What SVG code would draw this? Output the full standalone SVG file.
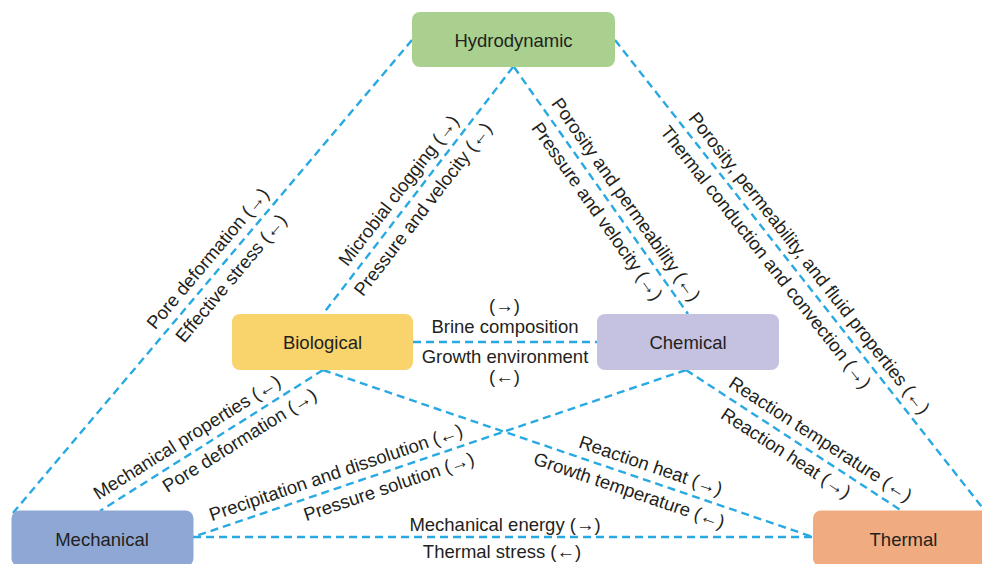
<svg xmlns="http://www.w3.org/2000/svg" width="982" height="564" viewBox="0 0 982 564">
<style>
.n{stroke:none}
.nt{font-family:"Liberation Sans",Arial,sans-serif;font-size:18.5px;fill:#231f20;text-anchor:middle}
.c line{stroke:#29a9e1;stroke-width:2.4;stroke-dasharray:8 5;fill:none}
.l{font-family:"Liberation Sans",Arial,sans-serif;font-size:18.5px;fill:#231f20;text-anchor:middle}
</style>
<rect width="982" height="564" fill="#ffffff"/>
<g class="c" id="connectors">
<line x1="412" y1="40" x2="13" y2="513"/>
<line x1="615" y1="40" x2="985" y2="511"/>
<line x1="513" y1="67" x2="323" y2="314"/>
<line x1="514" y1="67" x2="688" y2="314"/>
<line x1="413" y1="342" x2="597" y2="342"/>
<line x1="323" y1="370" x2="100" y2="511"/>
<line x1="323" y1="370" x2="813" y2="537"/>
<line x1="686" y1="370" x2="193" y2="537"/>
<line x1="686" y1="370" x2="902" y2="511"/>
<line x1="193" y1="537" x2="813" y2="537"/>
</g>
<g id="labels">
<g transform="translate(219.4,268.4) rotate(-49.85)"><text class="l" y="-9">Pore deformation (→)</text><text class="l" y="21.5">Effective stress (←)</text></g>
<g transform="translate(410.8,199.9) rotate(-52.43)"><text class="l" y="-9">Microbial clogging (→)</text><text class="l" y="21.5">Pressure and velocity (←)</text></g>
<g transform="translate(613.6,208.3) rotate(54.83)"><text class="l" y="-9">Porosity and permeability (←)</text></g>
<g transform="translate(609.6,202.6) rotate(54.83)"><text class="l" y="21.5">Pressure and velocity (→)</text></g>
<g transform="translate(797.3,272.6) rotate(51.85)"><text class="l" y="-9">Porosity, permeability, and fluid properties (←)</text></g>
<g transform="translate(777.8,247.8) rotate(51.85)"><text class="l" y="21.5">Thermal conduction and convection (→)</text></g>
<g transform="translate(195.2,450.2) rotate(-32.12)"><text class="l" y="-9">Mechanical properties (←)</text></g>
<g transform="translate(231.5,427.4) rotate(-32.12)"><text class="l" y="21.5">Pore deformation (→)</text></g>
<g transform="translate(340.8,487) rotate(-18.72)"><text class="l" y="-9">Precipitation and dissolution (←)</text></g>
<g transform="translate(384.1,472.3) rotate(-18.72)"><text class="l" y="21.5">Pressure solution (→)</text></g>
<g transform="translate(645.8,480) rotate(18.82)"><text class="l" y="-9">Reaction heat (→)</text></g>
<g transform="translate(634.1,476) rotate(18.82)"><text class="l" y="21.5">Growth temperature (←)</text></g>
<g transform="translate(812.3,451.9) rotate(32.95)"><text class="l" y="-9">Reaction temperature (←)</text></g>
<g transform="translate(794.3,440.2) rotate(32.95)"><text class="l" y="21.5">Reaction heat (→)</text></g>
<text class="l" x="504.5" y="312">(→)</text>
<text class="l" x="505" y="333.3">Brine composition</text>
<text class="l" x="505" y="363.3">Growth environment</text>
<text class="l" x="504.5" y="383">(←)</text>
<text class="l" x="505" y="531">Mechanical energy (→)</text>
<text class="l" x="502" y="558.3">Thermal stress (←)</text>
</g>
<g id="hydrodynamic"><rect class="n" x="412" y="12" width="203" height="55" rx="8" fill="#a9d08e"/><text class="nt" x="513.5" y="46.7">Hydrodynamic</text></g>
<g id="biological"><rect class="n" x="232" y="314" width="181" height="56" rx="8" fill="#f9d36b"/><text class="nt" x="322.5" y="349">Biological</text></g>
<g id="chemical"><rect class="n" x="597" y="314" width="182" height="56" rx="8" fill="#c5c1e0"/><text class="nt" x="688" y="349">Chemical</text></g>
<g id="mechanical"><rect class="n" x="11.5" y="510.5" width="182" height="56" rx="8" fill="#8fa7d4"/><text class="nt" x="102" y="546">Mechanical</text></g>
<g id="thermal"><rect class="n" x="813" y="510.5" width="182" height="56" rx="8" fill="#f0ac80"/><text class="nt" x="903.5" y="546">Thermal</text></g>
</svg>
